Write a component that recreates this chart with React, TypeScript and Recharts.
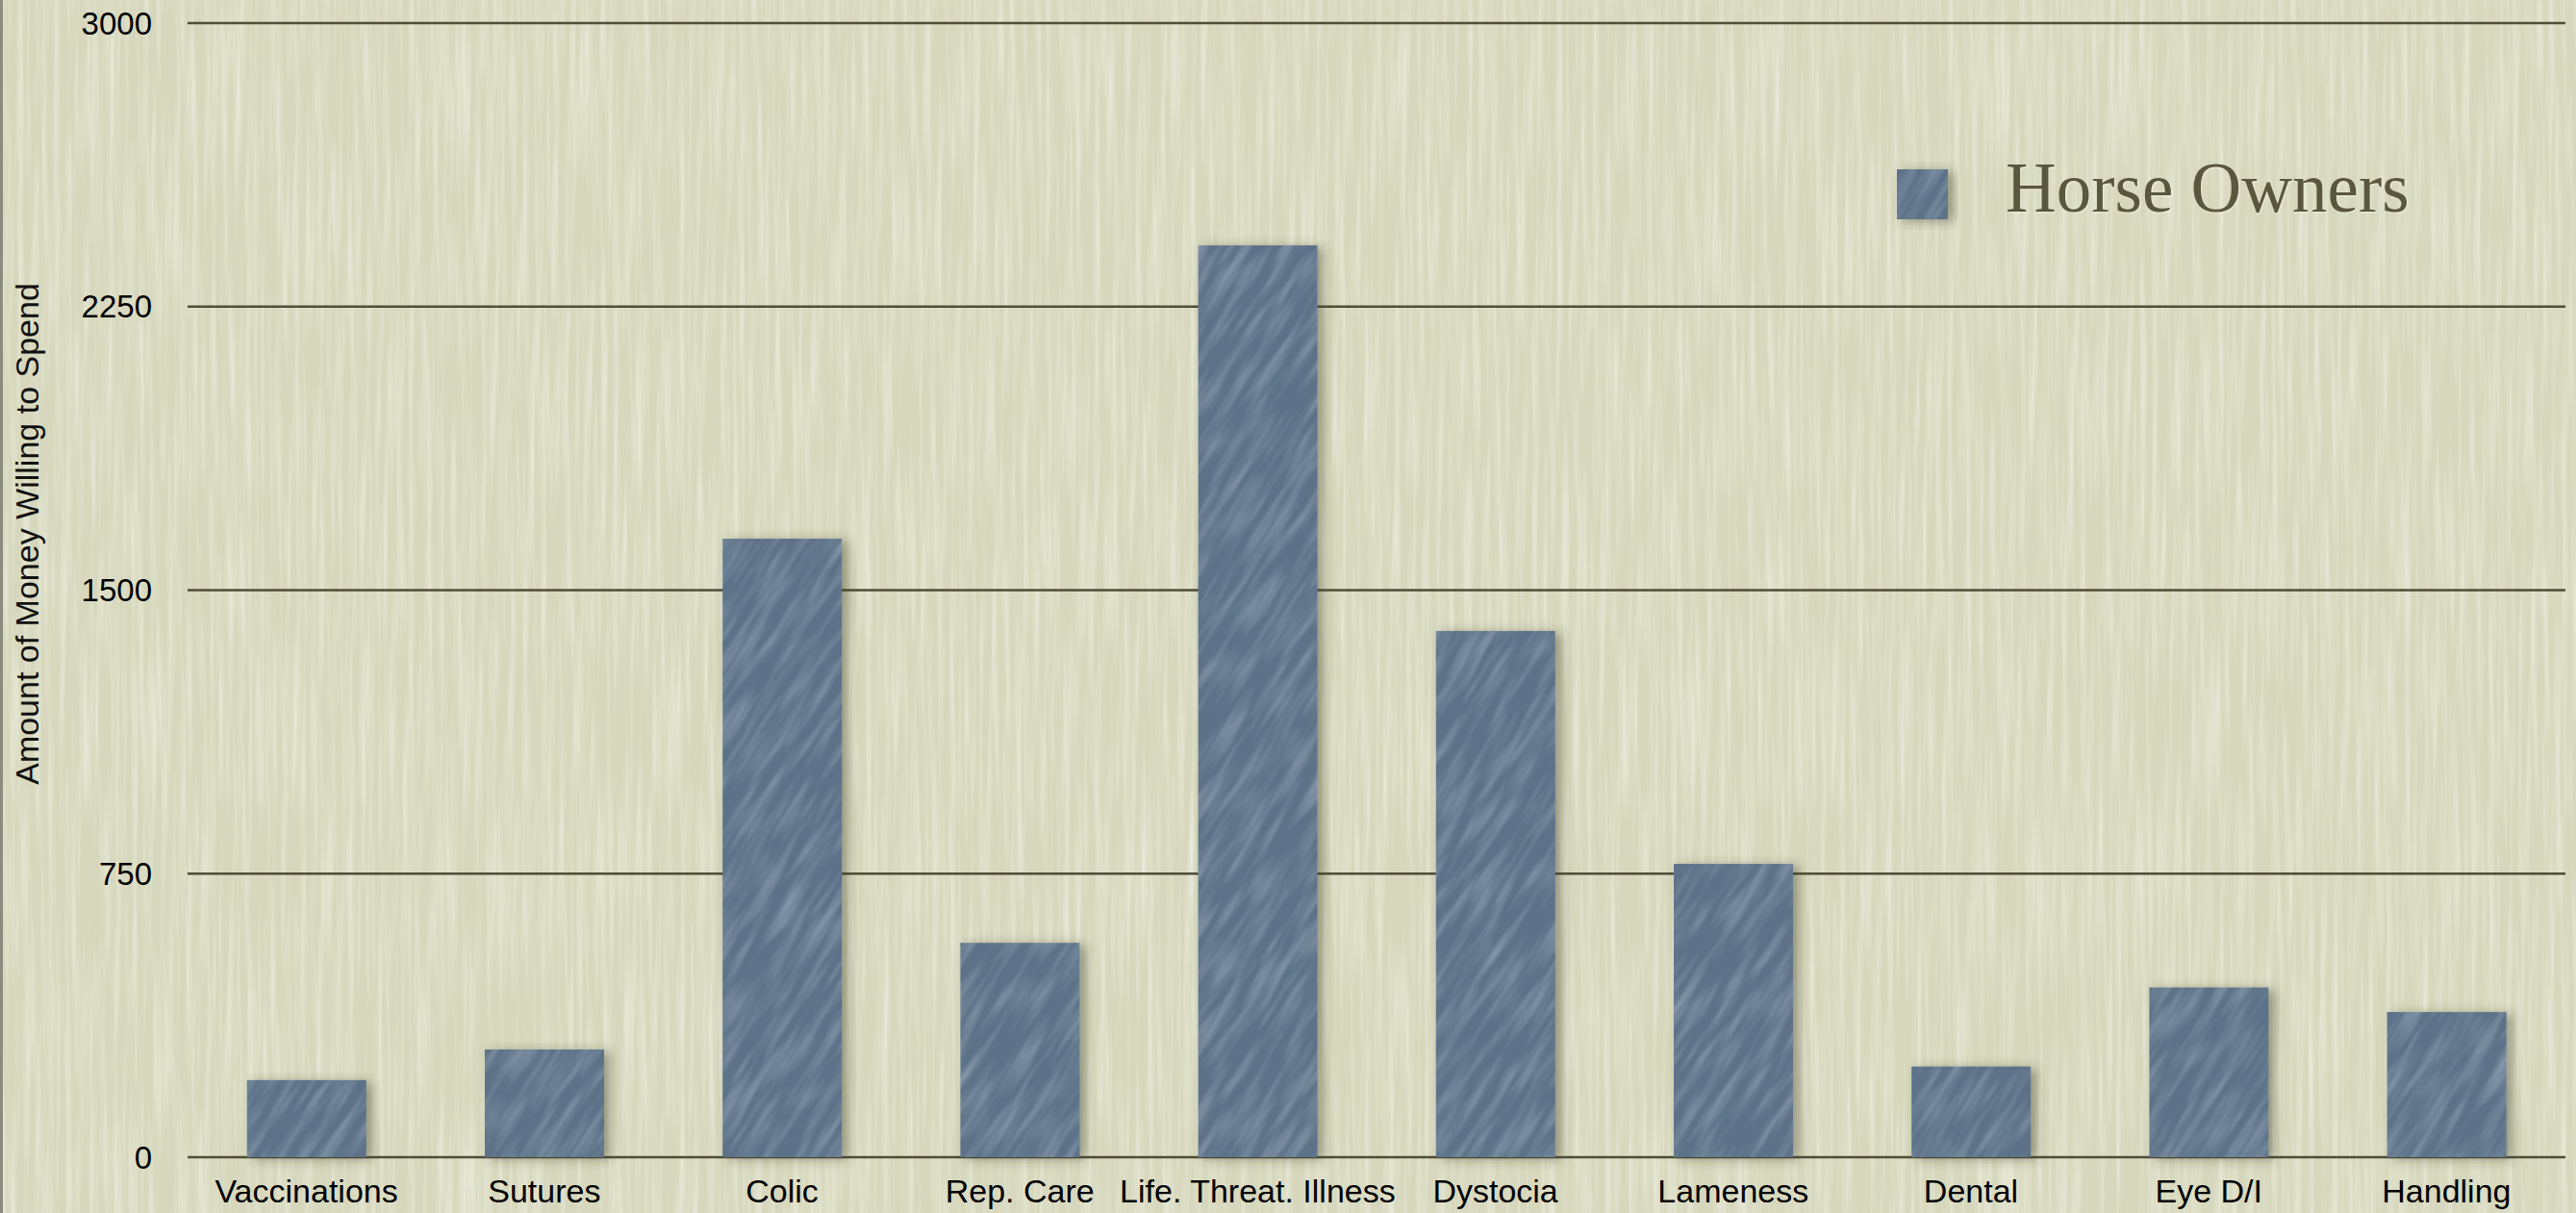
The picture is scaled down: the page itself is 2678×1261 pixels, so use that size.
import React from "react";
import { BarChart, Bar, XAxis, YAxis, CartesianGrid } from "recharts";

const categories = [
  "Vaccinations",
  "Sutures",
  "Colic",
  "Rep. Care",
  "Life. Threat. Illness",
  "Dystocia",
  "Lameness",
  "Dental",
  "Eye D/I",
  "Handling",
];
const horseOwners = [204, 285, 1636, 567, 2412, 1392, 776, 240, 449, 384];
const yTicks = [0, 750, 1500, 2250, 3000];
const seriesName = "Horse Owners";

const data = categories.map((name, i) => ({ name, horseOwners: horseOwners[i] }));

const W = 2678;
const H = 1261;

const BarShape = (props: any) => {
  const { x, y, width, height } = props;
  return (
    <rect
      x={x}
      y={y}
      width={width}
      height={height}
      fill="url(#barPat)"
      filter="url(#barShadow)"
    />
  );
};

const YLabel = (props: any) => {
  const vb = props.viewBox || { x: 0 };
  const x = vb.x + 40;
  const y = 555;
  return (
    <text
      x={x}
      y={y}
      transform={`rotate(-90, ${x}, ${y})`}
      textAnchor="middle"
      fontFamily="'Liberation Sans', Arial, sans-serif"
      fontSize={34}
      fill="#111"
    >
      Amount of Money Willing to Spend
    </text>
  );
};

const LegendBox = () => (
  <div style={{ position: "absolute", left: 1972, top: 176, display: "flex", alignItems: "flex-start" }}>
    <svg width={60} height={60} style={{ overflow: "visible" }}>
      <rect x={0} y={0} width={53} height={52} fill="url(#barPat)" filter="url(#barShadow)" />
    </svg>
    <span
      style={{
        marginLeft: 53,
        marginTop: -17,
        fontFamily: "'Liberation Serif', 'DejaVu Serif', serif",
        fontSize: 73,
        lineHeight: "73px",
        color: "#5a573f",
        textShadow: "1px 1px 2px rgba(255,255,240,0.6)",
        whiteSpace: "nowrap",
      }}
    >
      {seriesName}
    </span>
  </div>
);

export default function App() {
  return (
    <div style={{ position: "relative", width: W, height: H, overflow: "hidden", background: "#d6d7bc" }}>
      <style>{"body{margin:0}"}</style>
      <svg width={W} height={H} style={{ position: "absolute", left: 0, top: 0 }}>
        <defs>
          <filter id="paper" x="0" y="0" width="100%" height="100%">
            <feTurbulence type="fractalNoise" baseFrequency="0.16 0.006" numOctaves={3} seed={4} />
            <feColorMatrix
              type="matrix"
              values="0 0 0 0 0.96  0 0 0 0 0.96  0 0 0 0 0.9  1.0 0 0 0 -0.4"
            />
          </filter>
          <filter id="barNoise" x="0" y="0" width="100%" height="100%">
            <feTurbulence type="fractalNoise" baseFrequency="0.1 0.015" numOctaves={2} seed={9} stitchTiles="stitch" />
            <feColorMatrix
              type="matrix"
              values="0 0 0 0 0.6  0 0 0 0 0.68  0 0 0 0 0.78  0.7 0 0 0 -0.28"
            />
          </filter>
          <pattern id="barPat" patternUnits="userSpaceOnUse" width={400} height={400} patternTransform="rotate(32)">
            <rect x={0} y={0} width={400} height={400} fill="#5d7288" />
            <rect x={0} y={0} width={400} height={400} filter="url(#barNoise)" />
          </pattern>
          <filter id="barShadow" x="-20%" y="-20%" width="140%" height="140%">
            <feDropShadow dx={6} dy={2} stdDeviation={6} floodColor="#3c3b28" floodOpacity={0.45} />
          </filter>
        </defs>
        <rect x={0} y={0} width={W} height={H} fill="#d6d7bc" />
        <rect x={0} y={0} width={W} height={H} filter="url(#paper)" />
        <rect x={0} y={0} width={3} height={H} fill="#8b8b7e" />
      </svg>
      <div style={{ position: "absolute", left: 0, top: 0 }}>
        <BarChart
          width={W}
          height={H}
          data={data}
          margin={{ top: 24, right: 11, bottom: 0, left: 0 }}
          barCategoryGap="25%"
        >
          <CartesianGrid horizontal vertical={false} stroke="#4f4d37" strokeWidth={2.5} />
          <XAxis
            dataKey="name"
            height={58}
            axisLine={false}
            tickLine={false}
            tickSize={0}
            tickMargin={23}
            interval={0}
            tick={{ fontSize: 34, fill: "#000", fontFamily: "'Liberation Sans', Arial, sans-serif" }}
          />
          <YAxis
            width={195}
            domain={[0, 3000]}
            ticks={yTicks}
            axisLine={false}
            tickLine={false}
            tickSize={0}
            tickMargin={37}
            tick={{ fontSize: 33, fill: "#000", fontFamily: "'Liberation Sans', Arial, sans-serif" }}
            label={<YLabel />}
          />
          <Bar dataKey="horseOwners" name={seriesName} shape={<BarShape />} isAnimationActive={false} />
        </BarChart>
      </div>
      <LegendBox />
    </div>
  );
}
